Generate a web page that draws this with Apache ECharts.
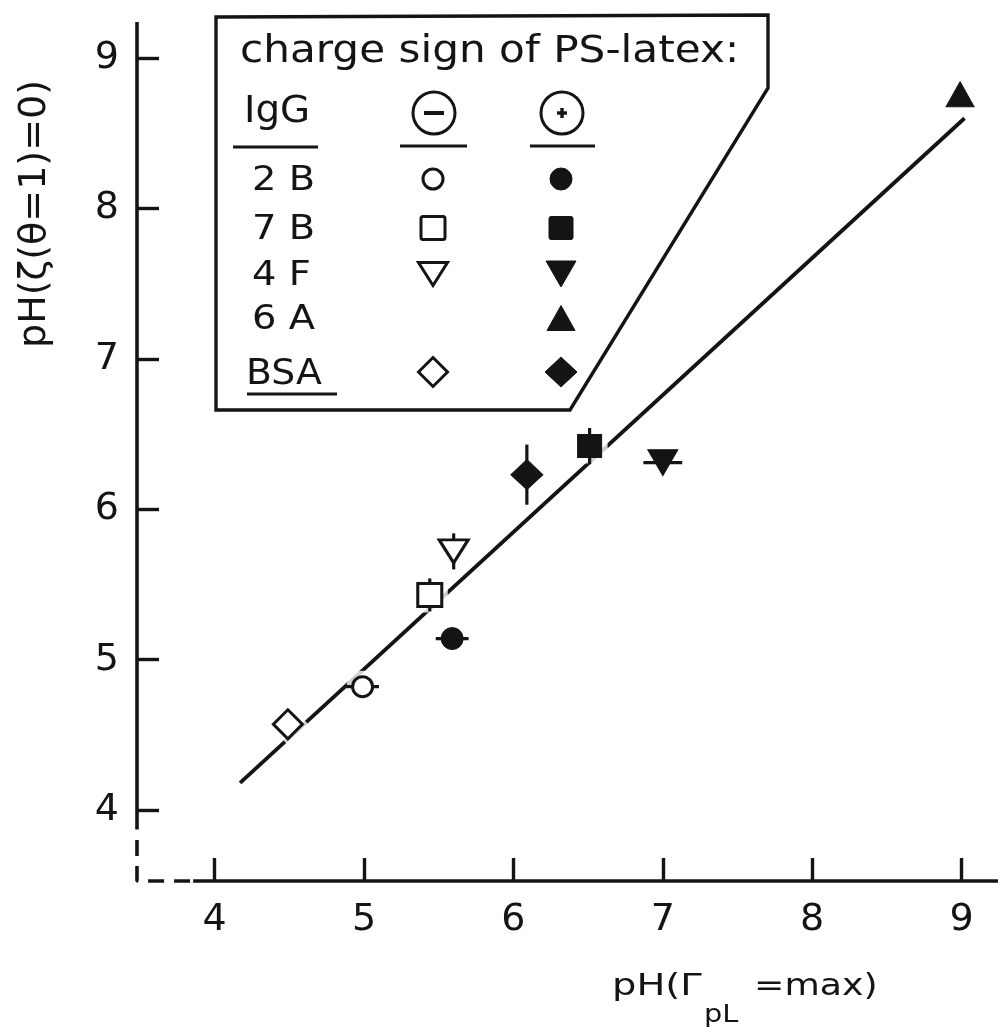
<!DOCTYPE html>
<html>
<head>
<meta charset="utf-8">
<script src="https://cdn.jsdelivr.net/npm/echarts@6/dist/echarts.min.js"></script>
<style>
  html, body { margin: 0; padding: 0; background: #fff; }
  #chart { width: 998px; height: 1028px; }
</style>
</head>
<body>
<div id="chart"></div>
<script>
// data
const xTicks = [4, 5, 6, 7, 8, 9]
const yTicks = [4, 5, 6, 7, 8, 9]
const groups = ['2 B', '7 B', '4 F', '6 A', 'BSA']

// PS-latex negative (open symbols)
const negX = [4.99, 5.44, 5.60, null, 4.49]
const negY = [4.82, 5.43, 5.72, null, 4.57]
const negXErr = [0.11, 0, 0, null, 0]
const negYErr = [0, 0.11, 0.12, null, 0]

// PS-latex positive (filled symbols)
const posX = [5.59, 6.51, 7.00, 8.99, 6.09]
const posY = [5.14, 6.42, 6.31, 8.76, 6.23]
const posXErr = [0.11, 0, 0.13, 0, 0]
const posYErr = [0, 0.12, 0, 0, 0.20]

// regression line
const fitX = [4.17, 9.02]
const fitY = [4.18, 8.60]

// axis extent
const xMin = 3.48, xMax = 9.244
const yMin = 3.528, yMax = 9.24

const FONT = 'DejaVu Sans'
const INK = '#141414'

// symbol styles per group
const symType = { '2 B': 'circle', '7 B': 'rect', '4 F': 'triangle', '6 A': 'triangle', 'BSA': 'diamond' }
const symRot = { '2 B': 0, '7 B': 0, '4 F': 180, '6 A': 0, 'BSA': 0 }
const negSize = { '2 B': 20, '7 B': [24, 23], '4 F': [29, 23], 'BSA': [29, 29] }
const posSize = { '2 B': 22, '7 B': [24, 23], '4 F': [30, 26], '6 A': [28, 25], 'BSA': [32, 30] }

function grow(s, d) {
    return Array.isArray(s) ? [s[0] + d, s[1] + d] : s + d
}

function pointItems(xs, ys, sizes, pad) {
    const out = []
    groups.forEach((g, i) => {
        if (xs[i] == null) return
        out.push({
            name: g,
            value: [xs[i], ys[i]],
            symbol: symType[g],
            symbolRotate: symRot[g],
            symbolSize: grow(sizes[g], pad)
        })
    })
    return out
}

function errItems(xs, ys, ex, ey) {
    const out = []
    groups.forEach((g, i) => {
        if (xs[i] == null) return
        out.push([xs[i], ys[i], ex[i], ey[i]])
    })
    return out
}

const myChart = echarts.init(document.getElementById('chart'))

// legend drawing helpers (pixel layout of the framed key)
const colNeg = 433, colPos = 561
const rowY = { '2 B': 179, '7 B': 228, '4 F': 274, '6 A': 318, 'BSA': 372 }

function keySymbol(g, cx, cy, filled) {
    const sz = filled ? posSize[g] : negSize[g]
    const w = Array.isArray(sz) ? sz[0] : sz
    const h = Array.isArray(sz) ? sz[1] : sz
    const style = filled
        ? { fill: INK, stroke: INK, lineWidth: 1 }
        : { fill: '#fff', stroke: INK, lineWidth: 3 }
    const t = symType[g]
    if (t === 'circle') return { type: 'circle', shape: { cx, cy, r: w / 2 }, style }
    if (t === 'rect') return { type: 'rect', shape: { x: cx - w / 2, y: cy - h / 2, width: w, height: h, r: 2 }, style }
    if (t === 'diamond') return { type: 'polygon', shape: { points: [[cx, cy - h / 2], [cx + w / 2, cy], [cx, cy + h / 2], [cx - w / 2, cy]] }, style }
    if (symRot[g] === 180) return { type: 'polygon', shape: { points: [[cx - w / 2, cy - h / 2], [cx + w / 2, cy - h / 2], [cx, cy + h / 2]] }, style }
    return { type: 'polygon', shape: { points: [[cx - w / 2, cy + h / 2], [cx + w / 2, cy + h / 2], [cx, cy - h / 2]] }, style }
}

function txt(text, x, y, size, sx) {
    return {
        type: 'text', x, y, scaleX: sx || 1,
        style: { text, fontFamily: FONT, fontSize: size, fill: INK, align: 'left', verticalAlign: 'middle' }
    }
}

function seg(x1, y1, x2, y2, w) {
    return { type: 'line', shape: { x1, y1, x2, y2 }, style: { stroke: INK, lineWidth: w || 3.2 } }
}

const keyElems = [
    {
        type: 'polygon',
        shape: { points: [[216, 17], [768, 15], [768, 88], [570, 410], [216, 410]] },
        style: { fill: '#fff', stroke: INK, lineWidth: 3.4 }
    },
    txt('charge sign of PS-latex:', 240, 52, 37, 1.14),
    txt('IgG', 244, 112, 37, 1.05),
    seg(233, 147, 318, 147),
    { type: 'circle', shape: { cx: 434, cy: 113, r: 21 }, style: { fill: 'none', stroke: INK, lineWidth: 3 } },
    seg(424, 113, 444, 113, 4),
    seg(400, 146, 467, 146),
    { type: 'circle', shape: { cx: 562, cy: 113, r: 21 }, style: { fill: 'none', stroke: INK, lineWidth: 3 } },
    seg(557, 113, 567, 113, 3.4),
    seg(562, 108, 562, 118, 3.4),
    seg(530, 146, 595, 146),
    seg(247, 394, 337, 394)
]
groups.forEach(g => {
    if (g === 'BSA') keyElems.push(txt(g, 246, rowY[g] + 3, 35, 1.08))
    else keyElems.push(txt(g, 252, rowY[g] + 2, 34, 1.13))
    if (negSize[g]) keyElems.push(keySymbol(g, colNeg, rowY[g], false))
    keyElems.push(keySymbol(g, colPos, rowY[g], true))
})

// axis titles
keyElems.push({
    type: 'text', x: 35, y: 214, rotation: Math.PI / 2,
    style: { text: 'pH(ζ(θ=1)=0)', fontFamily: FONT, fontSize: 38, fill: INK, align: 'center', verticalAlign: 'middle' }
})
keyElems.push(txt('pH(Γ', 612, 987, 31, 1.24))
keyElems.push(txt('pL', 704, 1016, 24, 1.2))
keyElems.push(txt('=max)', 754, 987, 31, 1.17))

const axisLineStyle = { color: INK, width: 3.6 }

const option = {
    backgroundColor: '#fff',
    animation: false,
    grid: { left: 137, right: 0, top: 22, bottom: 147, containLabel: false },
    xAxis: {
        type: 'value',
        min: xMin,
        max: xMax,
        axisLine: { show: false },
        splitLine: { show: false },
        axisTick: { show: true, inside: true, length: 23, customValues: xTicks, lineStyle: { color: INK, width: 3.4 } },
        axisLabel: { customValues: xTicks, margin: 20, color: INK, fontSize: 38, fontFamily: FONT }
    },
    yAxis: {
        type: 'value',
        min: yMin,
        max: yMax,
        axisLine: { show: false },
        splitLine: { show: false },
        axisTick: { show: true, inside: true, length: 22, customValues: yTicks, lineStyle: { color: INK, width: 3.4 } },
        axisLabel: { customValues: yTicks, margin: 18, color: INK, fontSize: 38, fontFamily: FONT }
    },
    graphic: keyElems,
    series: [
        // axis frame: solid parts and dashed corner
        {
            type: 'line', symbol: 'none', clip: false, silent: true, z: 1,
            lineStyle: axisLineStyle,
            data: [[xMin, 3.87], [xMin, yMax]]
        },
        {
            type: 'line', symbol: 'none', clip: false, silent: true, z: 1,
            lineStyle: axisLineStyle,
            data: [[3.856, yMin], [xMax, yMin]]
        },
        {
            type: 'line', symbol: 'none', clip: false, silent: true, z: 1,
            lineStyle: { color: INK, width: 3.6, type: [16, 10] },
            data: [[xMin, 3.80], [xMin, yMin], [3.856, yMin]]
        },
        // regression line
        {
            type: 'line', symbol: 'none', clip: false, silent: true, z: 2,
            lineStyle: { color: INK, width: 3.8 },
            data: fitX.map((x, i) => [x, fitY[i]])
        },
        // white halo that breaks the line around the symbols
        {
            type: 'scatter', silent: true, z: 3,
            itemStyle: { color: '#fff', borderWidth: 0 },
            data: pointItems(negX, negY, negSize, 12).concat(pointItems(posX, posY, posSize, 12))
        },
        // error bars
        {
            type: 'custom', silent: true, z: 4,
            renderItem(params, api) {
                const x = api.value(0), y = api.value(1), ex = api.value(2), ey = api.value(3)
                const children = []
                if (ex > 0) {
                    const a = api.coord([x - ex, y]), b = api.coord([x + ex, y])
                    children.push({ type: 'line', shape: { x1: a[0], y1: a[1], x2: b[0], y2: b[1] }, style: { stroke: INK, lineWidth: 3.2 } })
                }
                if (ey > 0) {
                    const a = api.coord([x, y - ey]), b = api.coord([x, y + ey])
                    children.push({ type: 'line', shape: { x1: a[0], y1: a[1], x2: b[0], y2: b[1] }, style: { stroke: INK, lineWidth: 3.2 } })
                }
                return { type: 'group', children }
            },
            data: errItems(negX, negY, negXErr, negYErr).concat(errItems(posX, posY, posXErr, posYErr))
        },
        {
            name: 'negative',
            type: 'scatter', z: 5,
            itemStyle: { color: '#fff', borderColor: INK, borderWidth: 3, opacity: 1 },
            data: pointItems(negX, negY, negSize, 0)
        },
        {
            name: 'positive',
            type: 'scatter', z: 5,
            itemStyle: { color: INK, borderColor: INK, borderWidth: 1, opacity: 1 },
            data: pointItems(posX, posY, posSize, 0)
        }
    ]
}
myChart.setOption(option)
</script>
</body>
</html>
